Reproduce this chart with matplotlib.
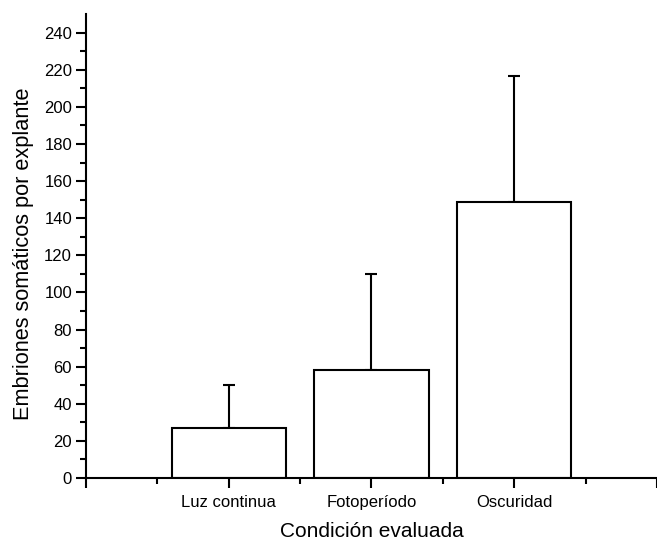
import numpy as np
import matplotlib.pyplot as plt

plt.rcParams['font.family'] = ['Liberation Sans', 'DejaVu Sans']

categories = ['Luz continua', 'Fotoperíodo', 'Oscuridad']
means = [27, 58, 148.5]
errors = [23, 52, 68]

fig = plt.figure(figsize=(6.57, 5.4), dpi=100)
ax = fig.add_axes([0.1309, 0.1148, 0.869, 0.8592])

x = np.arange(1, len(categories) + 1)
ax.bar(x, means, width=0.8, color='white', edgecolor='black', linewidth=1.5, zorder=2)
ax.errorbar(x, means, yerr=[np.zeros(len(errors)), errors], fmt='none',
            ecolor='black', elinewidth=1.5, capsize=4, capthick=1.5, zorder=1)

ax.set_xlim(0, 4)
ax.set_ylim(0, 250)
ax.set_xticks([0, 1, 2, 3, 4])
ax.set_xticklabels(['', *categories, ''], fontsize=12)
ax.set_xticks([0.5, 1.5, 2.5, 3.5], minor=True)
ax.set_yticks(np.arange(0, 241, 20))
ax.set_yticks(np.arange(10, 250, 20), minor=True)
ax.tick_params(axis='y', labelsize=12)

for s in ['top', 'right']:
    ax.spines[s].set_visible(False)
for s in ['left', 'bottom']:
    ax.spines[s].set_linewidth(1.5)

ax.tick_params(which='major', direction='out', length=7, width=1.5)
ax.tick_params(which='minor', direction='out', length=4, width=1.5)
ax.tick_params(axis='x', which='major', pad=5)
ax.tick_params(axis='y', which='major', pad=3)

ax.set_xlabel('Condición evaluada', fontsize=15, labelpad=9)
ax.set_ylabel('Embriones somáticos por explante', fontsize=15.7, labelpad=7, y=0.483)

fig.savefig('out.png', dpi=100)
